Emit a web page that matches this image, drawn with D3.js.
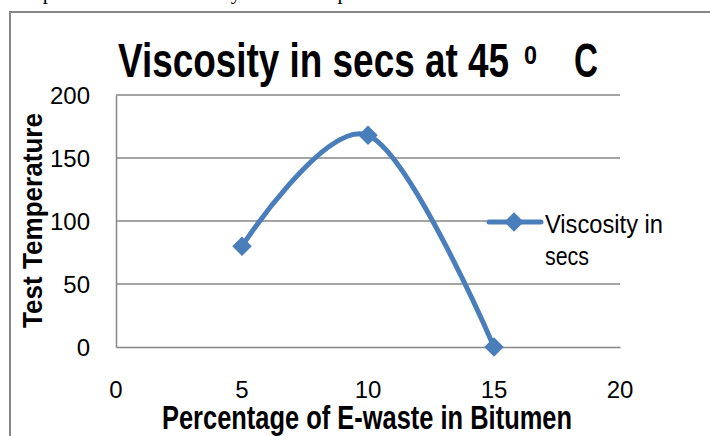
<!DOCTYPE html>
<html>
<head>
<meta charset="utf-8">
<script src="https://cdn.jsdelivr.net/npm/d3@7"></script>
<style>
  html, body { margin: 0; padding: 0; background: #fff; overflow: hidden; }
  svg { display: block; }
</style>
</head>
<body>
<div id="chart"></div>
<script>
// data
const percentages = [5, 10, 15];
const viscosity = [80, 168, 0];
const xTicks = [0, 5, 10, 15, 20];
const yTicks = [0, 50, 100, 150, 200];
const seriesName = ['Viscosity in', 'secs'];

const width = 710, height = 436;
const margin = {top: 95, right: 90, bottom: 89, left: 116};
const plotW = width - margin.left - margin.right,
  plotH = height - margin.top - margin.bottom;

const sans = '"Liberation Sans", Arial, sans-serif';
const blue = '#4a7ebb';
const grey = '#868686';

const svg = d3.select('#chart').append('svg')
  .attr('width', width)
  .attr('height', height);

// caption of the page above, cut by the top edge
svg.append('text')
  .attr('x', 2)
  .attr('y', -1)
  .style('font-family', '"Liberation Serif", "Times New Roman", serif')
  .style('font-size', '21px')
  .style('fill', '#000')
  .text('Comparison of the Viscosity of the Sample varied');

// outer frame of the chart
svg.append('rect')
  .attr('x', 10)
  .attr('y', 12)
  .attr('width', 720)
  .attr('height', 440)
  .style('fill', '#fff')
  .style('stroke', grey)
  .style('stroke-width', 2);

const x = d3.scaleLinear().domain([0, 20]).range([0, plotW]);
const y = d3.scaleLinear().domain([0, 200]).range([plotH, 0]);

const g = svg.append('g')
  .attr('transform', `translate(${margin.left},${margin.top})`);

// gridlines
g.selectAll('.grid')
  .data(yTicks.filter(d => d > 0))
  .enter().append('line')
  .attr('class', 'grid')
  .attr('x1', 0)
  .attr('x2', plotW)
  .attr('y1', d => y(d))
  .attr('y2', d => y(d))
  .style('stroke', grey)
  .style('stroke-width', 1.5);

// axes (labels placed by hand below, from the same scales)
const yAxis = d3.axisLeft(y).tickValues(yTicks).tickSize(0).tickFormat('');
const xAxis = d3.axisBottom(x).tickValues(xTicks).tickSize(0).tickFormat('');

const yg = g.append('g').call(yAxis);
const xg = g.append('g').attr('transform', `translate(0,${plotH})`).call(xAxis);
[yg, xg].forEach(a => a.select('.domain').style('stroke', grey).style('stroke-width', 1.5));

g.selectAll('.ylab')
  .data(yTicks)
  .enter().append('text')
  .attr('class', 'ylab')
  .attr('x', -26)
  .attr('y', d => y(d) + 8.5)
  .style('text-anchor', 'end')
  .style('font-family', sans)
  .style('font-size', '24px')
  .style('fill', '#000')
  .text(d => d);

g.selectAll('.xlab')
  .data(xTicks)
  .enter().append('text')
  .attr('class', 'xlab')
  .attr('x', d => x(d))
  .attr('y', plotH + 51)
  .style('text-anchor', 'middle')
  .style('font-family', sans)
  .style('font-size', '24px')
  .style('fill', '#000')
  .text(d => d);

// smoothed line
const line = d3.line()
  .x((d, i) => x(percentages[i]))
  .y(d => y(d))
  .curve(d3.curveCardinal.tension(0));

g.append('path')
  .datum(viscosity)
  .attr('d', line)
  .style('fill', 'none')
  .style('stroke', blue)
  .style('stroke-width', 5)
  .style('stroke-linecap', 'round');

const diamond = d3.symbol().type(d3.symbolSquare).size(190);

g.selectAll('.pt')
  .data(viscosity)
  .enter().append('path')
  .attr('class', 'pt')
  .attr('d', diamond)
  .attr('transform', (d, i) => `translate(${x(percentages[i])},${y(d)}) rotate(45)`)
  .style('fill', blue);

// legend
const lg = svg.append('g').attr('transform', 'translate(485,222)');
lg.append('rect')
  .attr('x', 2).attr('y', -24)
  .attr('width', 190).attr('height', 60)
  .style('fill', '#fff');
lg.append('line')
  .attr('x1', 4).attr('x2', 56)
  .attr('y1', 0).attr('y2', 0)
  .style('stroke', blue)
  .style('stroke-width', 5)
  .style('stroke-linecap', 'round');
lg.append('path')
  .attr('d', diamond)
  .attr('transform', 'translate(29,0) rotate(45)')
  .style('fill', blue);
const legendW = [118, 44];
lg.selectAll('.lt')
  .data(seriesName)
  .enter().append('text')
  .attr('class', 'lt')
  .attr('x', 60)
  .attr('y', (d, i) => 11 + i * 32)
  .attr('textLength', (d, i) => legendW[i])
  .attr('lengthAdjust', 'spacingAndGlyphs')
  .style('font-family', sans)
  .style('font-size', '26px')
  .style('fill', '#000')
  .text(d => d);

// title, in three pieces: main text, raised degree zero, C
const titleParts = [
  {text: 'Viscosity in secs at 45', x: 118, y: 77, w: 391, size: 48},
  {text: '0', x: 524, y: 64, w: 13, size: 26},
  {text: 'C', x: 574, y: 77, w: 24, size: 48}
];
svg.selectAll('.title')
  .data(titleParts)
  .enter().append('text')
  .attr('class', 'title')
  .attr('x', d => d.x)
  .attr('y', d => d.y)
  .attr('textLength', d => d.w)
  .attr('lengthAdjust', 'spacingAndGlyphs')
  .style('font-family', sans)
  .style('font-weight', 'bold')
  .style('font-size', d => d.size + 'px')
  .style('fill', '#000')
  .text(d => d.text);

// axis titles
svg.append('text')
  .attr('x', 162)
  .attr('y', 429)
  .attr('textLength', 410)
  .attr('lengthAdjust', 'spacingAndGlyphs')
  .style('font-family', sans)
  .style('font-weight', 'bold')
  .style('font-size', '33px')
  .style('fill', '#000')
  .text('Percentage of E-waste in Bitumen');

svg.append('text')
  .attr('transform', 'translate(42,328) rotate(-90)')
  .attr('textLength', 215)
  .attr('lengthAdjust', 'spacingAndGlyphs')
  .style('font-family', sans)
  .style('font-weight', 'bold')
  .style('font-size', '28px')
  .style('fill', '#000')
  .text('Test Temperature');
</script>
</body>
</html>
